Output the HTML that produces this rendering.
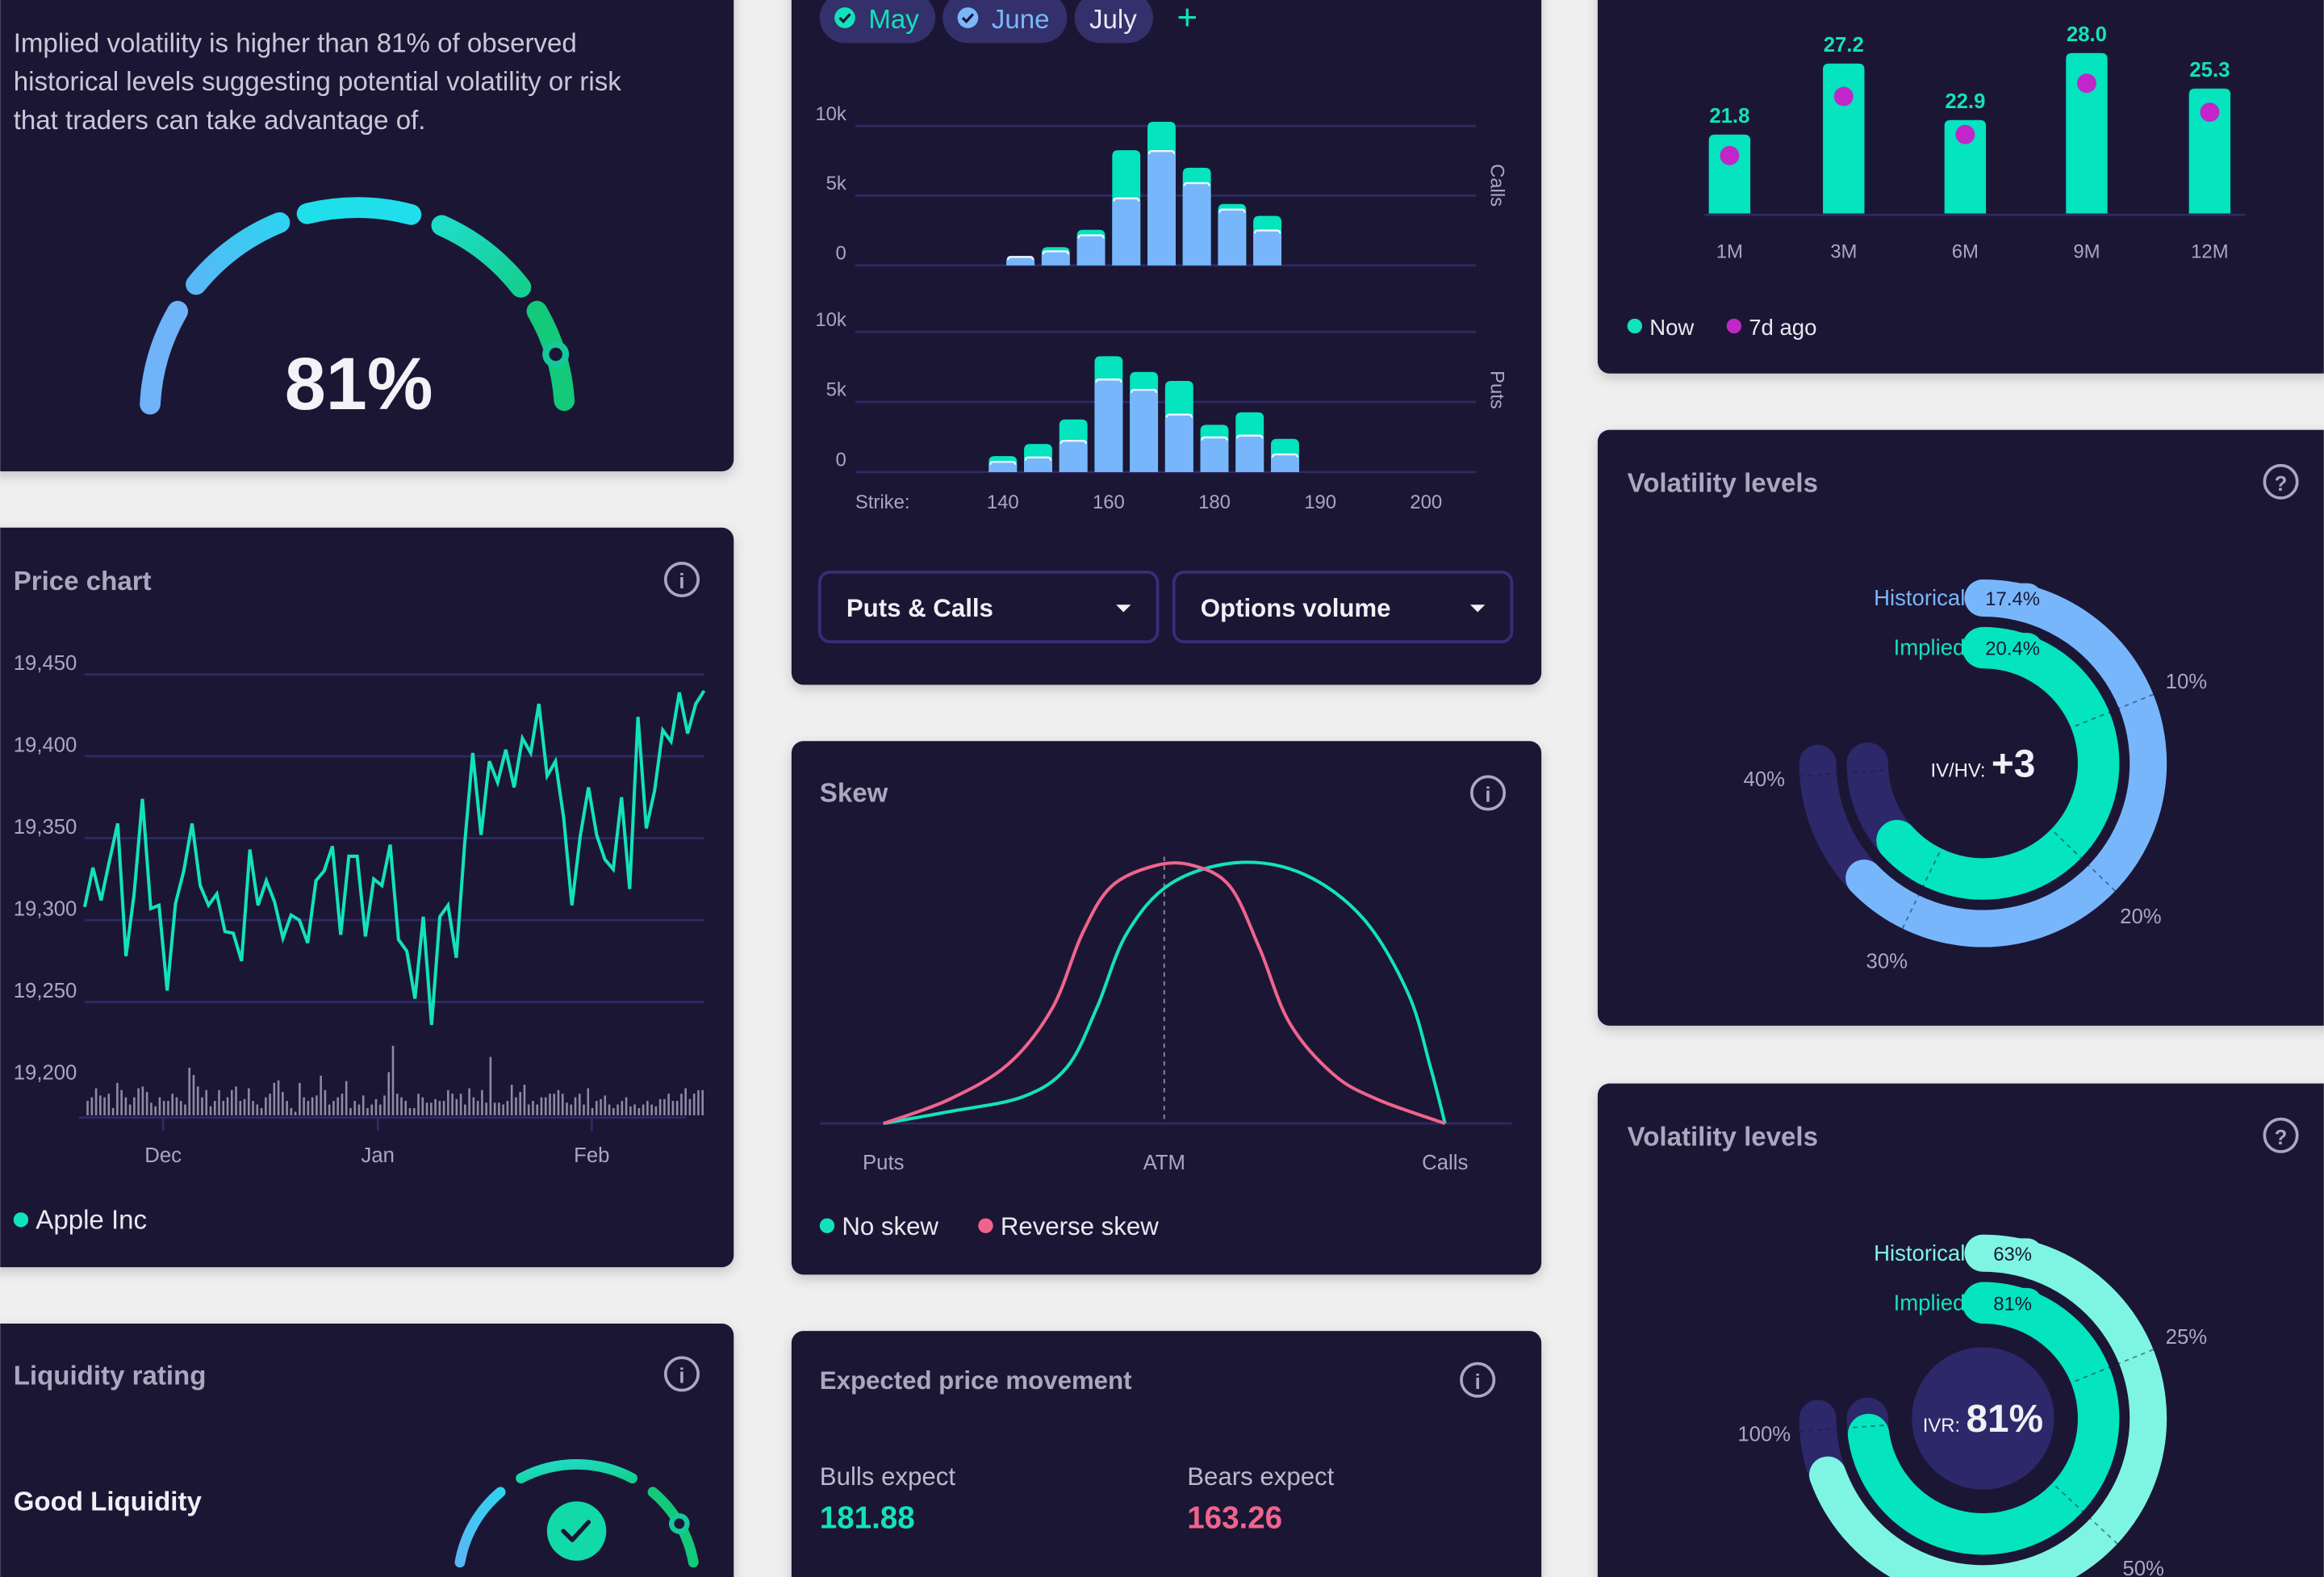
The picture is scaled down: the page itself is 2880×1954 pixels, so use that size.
<!DOCTYPE html>
<html><head><meta charset="utf-8">
<style>
html,body{margin:0;padding:0;background:#efefef;width:2880px;height:1954px;overflow:hidden;}
svg{display:block;font-family:"Liberation Sans",sans-serif;}
</style></head>
<body>
<svg id="root" width="2880" height="1954" viewBox="0 0 1568 1064" xmlns="http://www.w3.org/2000/svg">
<defs>
<filter id="sh" x="-10%" y="-10%" width="120%" height="130%"><feDropShadow dx="0" dy="3" stdDeviation="4" flood-color="#000" flood-opacity="0.18"/></filter>
<linearGradient id="g2" x1="0" y1="1" x2="1" y2="0"><stop offset="0" stop-color="#58b8f7"/><stop offset="1" stop-color="#2fd2f0"/></linearGradient>
<linearGradient id="g4" x1="0" y1="0" x2="1" y2="1"><stop offset="0" stop-color="#1fdcc8"/><stop offset="1" stop-color="#14cf8f"/></linearGradient>
<clipPath id="pg"><rect width="1568" height="1064"/></clipPath>
</defs>
<g clip-path="url(#pg)">
<rect width="1568" height="1064" fill="#efefef"/>
<g filter="url(#sh)" fill="#1a1736">
<rect x="-10" y="-20" width="505" height="338" rx="8"/>
<rect x="-10" y="356" width="505" height="499" rx="8"/>
<rect x="-10" y="893" width="505" height="190" rx="8"/>
<rect x="534" y="-20" width="506" height="482" rx="8"/>
<rect x="534" y="500" width="506" height="360" rx="8"/>
<rect x="534" y="898" width="506" height="185" rx="8"/>
<rect x="1078" y="-20" width="500" height="272" rx="8"/>
<rect x="1078" y="290" width="500" height="402" rx="8"/>
<rect x="1078" y="731" width="500" height="352" rx="8"/>
</g>

<g fill="#c9c8d8" font-size="18">
<text x="9" y="35">Implied volatility is higher than 81% of observed</text>
<text x="9" y="61">historical levels suggesting potential volatility or risk</text>
<text x="9" y="87">that traders can take advantage of.</text>
</g>
<g id="gauge1"></g>
<text x="242" y="276" text-anchor="middle" font-size="50" font-weight="bold" fill="#f2f2f7">81%</text>

<text x="9" y="398" font-size="18" font-weight="bold" fill="#a9a8bf">Price chart</text>
<g><circle cx="460" cy="391" r="11" fill="none" stroke="#a9a8bf" stroke-width="2"/><text x="460" y="397" text-anchor="middle" font-size="14" font-weight="bold" fill="#a9a8bf">i</text></g>
<g id="price"></g>
<circle cx="14" cy="823" r="5" fill="#12e2bb"/>
<text x="24" y="829" font-size="18" fill="#e8e8f0">Apple Inc</text>

<text x="9" y="934" font-size="18" font-weight="bold" fill="#a9a8bf">Liquidity rating</text>
<g><circle cx="460" cy="927" r="11" fill="none" stroke="#a9a8bf" stroke-width="2"/><text x="460" y="933" text-anchor="middle" font-size="14" font-weight="bold" fill="#a9a8bf">i</text></g>
<text x="9" y="1019" font-size="18" font-weight="bold" fill="#f0f0f5">Good Liquidity</text>
<g id="gauge2"></g>
<g><circle cx="389" cy="1033" r="20" fill="#12d9a8"/><path d="M380 1033 l6 6 l11 -12" fill="none" stroke="#1a1736" stroke-width="3" stroke-linecap="round" stroke-linejoin="round"/></g>

<g><rect x="553" y="-5" width="78" height="34" rx="17" fill="#34306b"/><circle cx="570" cy="12" r="7" fill="#12e2bb"/><path d="M566.5 12 l2.5 2.5 l4.5 -5" fill="none" stroke="#1a1736" stroke-width="1.8"/><text x="586" y="19" font-size="18" fill="#12e2bb">May</text></g>
<g><rect x="636" y="-5" width="84" height="34" rx="17" fill="#34306b"/><circle cx="653" cy="12" r="7" fill="#7ab7fb"/><path d="M649.5 12 l2.5 2.5 l4.5 -5" fill="none" stroke="#1a1736" stroke-width="1.8"/><text x="669" y="19" font-size="18" fill="#7ab7fb">June</text></g>
<g><rect x="725" y="-5" width="53" height="34" rx="17" fill="#34306b"/><text x="735" y="19" font-size="18" fill="#e8e8f0">July</text></g>
<text x="801" y="20" text-anchor="middle" font-size="24" fill="#12e2bb">+</text>
<g id="opts"></g>
<g><rect x="553" y="386" width="228" height="47" rx="7" fill="none" stroke="#352f7a" stroke-width="2"/><text x="571" y="416" font-size="17" font-weight="bold" fill="#f0f0f5">Puts &amp; Calls</text><path d="M753 408 h10 l-5 5z" fill="#f0f0f5"/></g>
<g><rect x="792" y="386" width="228" height="47" rx="7" fill="none" stroke="#352f7a" stroke-width="2"/><text x="810" y="416" font-size="17" font-weight="bold" fill="#f0f0f5">Options volume</text><path d="M992 408 h10 l-5 5z" fill="#f0f0f5"/></g>

<text x="553" y="541" font-size="18" font-weight="bold" fill="#a9a8bf">Skew</text>
<g><circle cx="1004" cy="535" r="11" fill="none" stroke="#a9a8bf" stroke-width="2"/><text x="1004" y="541" text-anchor="middle" font-size="14" font-weight="bold" fill="#a9a8bf">i</text></g>
<g id="skew"></g>
<circle cx="558" cy="827" r="5" fill="#12e2bb"/>
<text x="568" y="833" font-size="17" fill="#e8e8f0">No skew</text>
<circle cx="665" cy="827" r="5" fill="#f0648c"/>
<text x="675" y="833" font-size="17" fill="#e8e8f0">Reverse skew</text>

<text x="553" y="937" font-size="17" font-weight="bold" fill="#a9a8bf">Expected price movement</text>
<g><circle cx="997" cy="931" r="11" fill="none" stroke="#a9a8bf" stroke-width="2"/><text x="997" y="937" text-anchor="middle" font-size="14" font-weight="bold" fill="#a9a8bf">i</text></g>
<text x="553" y="1002" font-size="17" fill="#b9b8cc">Bulls expect</text>
<text x="553" y="1031" font-size="21" font-weight="bold" fill="#12e2bb">181.88</text>
<text x="801" y="1002" font-size="17" fill="#b9b8cc">Bears expect</text>
<text x="801" y="1031" font-size="21" font-weight="bold" fill="#f0648c">163.26</text>

<g id="term"></g>
<circle cx="1103" cy="220" r="5" fill="#12e2bb"/>
<text x="1113" y="226" font-size="15" fill="#e8e8f0">Now</text>
<circle cx="1170" cy="220" r="5" fill="#c026c8"/>
<text x="1180" y="226" font-size="15" fill="#e8e8f0">7d ago</text>

<text x="1098" y="332" font-size="18" font-weight="bold" fill="#a9a8bf">Volatility levels</text>
<g><circle cx="1539" cy="325" r="11" fill="none" stroke="#a9a8bf" stroke-width="2"/><text x="1539" y="331" text-anchor="middle" font-size="14" font-weight="bold" fill="#a9a8bf">?</text></g>
<g id="donut1"></g>
<text x="1098" y="773" font-size="18" font-weight="bold" fill="#a9a8bf">Volatility levels</text>
<g><circle cx="1539" cy="766" r="11" fill="none" stroke="#a9a8bf" stroke-width="2"/><text x="1539" y="772" text-anchor="middle" font-size="14" font-weight="bold" fill="#a9a8bf">?</text></g>
<g id="donut2"></g>
</g>
</svg>
<script>
const priceValues = [19308,19332,19312,19336,19359,19278,19316,19374,19307,19309,19257,19310,19330,19359,19321,19309,19316,19293,19292,19275,19343,19309,19324,19311,19289,19303,19300,19286,19324,19330,19345,19291,19339,19339,19290,19325,19321,19346,19288,19281,19252,19302,19236,19302,19309,19277,19346,19402,19352,19397,19384,19404,19381,19411,19402,19432,19388,19397,19362,19309,19351,19381,19352,19337,19331,19375,19319,19424,19356,19379,19416,19409,19439,19414,19432,19440];
const priceTicks = [19450,19400,19350,19300,19250,19200];
const volumeValues = [40,50,75,55,50,60,20,90,70,50,30,50,75,80,65,35,25,50,40,40,60,50,40,30,132,112,80,50,70,25,40,70,40,50,70,80,40,45,75,40,30,20,50,60,90,97,65,40,20,10,90,50,40,50,55,110,70,30,40,50,60,95,20,40,30,55,20,30,45,30,55,120,193,60,50,40,20,20,60,50,35,35,45,40,40,70,60,45,60,30,75,50,40,70,35,162,35,35,30,40,85,50,65,85,30,40,30,50,50,60,60,70,60,35,30,50,60,30,75,20,40,45,55,30,20,30,40,50,25,30,20,30,40,30,25,45,45,60,40,40,60,75,45,60,70,70];
const monthLabels = ["Dec","Jan","Feb"];
const monthIndex = [9.5,35.5,61.4];
const callsTotal = [0.66,1.3,2.55,8.26,10.3,7.0,4.4,3.55];
const callsMay = [0.6,1.0,2.15,4.8,8.2,5.9,4.0,2.5];
const putsTotal = [1.14,2.0,3.75,8.26,7.14,6.5,3.37,4.26,2.37];
const putsMay = [0.73,1.04,2.23,6.6,5.86,4.1,2.47,2.6,1.26];
const volTicks = [10,5,0];
const volTickLabels = ["10k","5k","0"];
const strikeLabels = ["140","160","180","190","200"];
const strikeIndex = [0,3,6,9,12];
const skewNoX = [0,0.116,0.248,0.327,0.380,0.433,0.512,0.631,0.749,0.855,0.934,0.974,1.0];
const skewNoY = [0,0.045,0.102,0.216,0.443,0.727,0.920,1.0,0.955,0.784,0.500,0.216,0];
const skewRevX = [0,0.116,0.222,0.301,0.354,0.406,0.485,0.551,0.617,0.670,0.723,0.802,0.881,1.0];
const skewRevY = [0,0.091,0.227,0.443,0.727,0.909,0.989,0.989,0.909,0.670,0.386,0.187,0.091,0];
const termLabels = ["1M","3M","6M","9M","12M"];
const termNow = [21.8,27.2,22.9,28.0,25.3];
const term7d = [20.2,24.7,21.8,25.7,23.5];
const donut1Values = [17.4,20.4];
const donut1Sweep = [226,228];
const donut2Values = [63,81];
const donut2Sweep = [250,262];

const NS="http://www.w3.org/2000/svg";
function mk(parent,tag,attrs){const e=document.createElementNS(NS,tag);for(const k in attrs)e.setAttribute(k,attrs[k]);parent.appendChild(e);return e;}
function pol(cx,cy,r,a){const t=(a-90)*Math.PI/180;return [cx+r*Math.cos(t),cy+r*Math.sin(t)];}
function arc(cx,cy,r,a0,a1){const p0=pol(cx,cy,r,a0),p1=pol(cx,cy,r,a1);const large=(a1-a0)>180?1:0;return `M${p0[0]} ${p0[1]} A${r} ${r} 0 ${large} 1 ${p1[0]} ${p1[1]}`;}

(function(){
  const g=document.getElementById('gauge1');
  const segs=[[-87,-60,'#6fb3f8'],[-51,-22,'url(#g2)'],[-14,15,'#1fe0ea'],[24,52,'url(#g4)'],[60,86,'#13c97a']];
  segs.forEach((s,i)=>{const p=mk(g,'path',{d:arc(241,280,140,s[0],s[1]),fill:'none',stroke:s[2],'stroke-width':14,'stroke-linecap':'round'});
  
  });
  const h=pol(241,280,140,73);
  const c=mk(g,'circle',{cx:h[0],cy:h[1],r:9,fill:'#14c99a'});
  
  
  mk(g,'circle',{cx:h[0],cy:h[1],r:4.5,fill:'#1a1736'});
  const g2=document.getElementById('gauge2');
  const s2=[[-80,-40,'url(#g2)'],[-28,28,'url(#g4)'],[40,80,'#13c97a']];
  s2.forEach(s=>{const p=mk(g2,'path',{d:arc(389,1068,80,s[0],s[1]),fill:'none',stroke:s[2],'stroke-width':7,'stroke-linecap':'round'});
  
  });
  const h2=pol(389,1068,80,60);
  mk(g2,'circle',{cx:h2[0],cy:h2[1],r:7,fill:'#14c99a'});
  mk(g2,'circle',{cx:h2[0],cy:h2[1],r:3.5,fill:'#1a1736'});
})();

(function(){
  const g=document.getElementById('price');
  const x0=57,x1=475;
  const py=v=>455+(19450-v)*1.105;
  priceTicks.forEach(t=>{
    if(t>19200){const l=mk(g,'line',{x1:x0,x2:x1,y1:py(t),y2:py(t),stroke:'#2e2a64','stroke-width':1.5});
    
    }
    const tx=mk(g,'text',{x:9,y:py(t)-3,'font-size':14,fill:'#a9a8bf'});tx.textContent=t.toLocaleString('en-US');
    
    
  });
  const px=i=>x0+i*(x1-x0)/(priceValues.length-1);
  const d=priceValues.map((v,i)=>(i?'L':'M')+px(i).toFixed(1)+' '+py(v).toFixed(1)).join(' ');
  const line=mk(g,'path',{d:d,fill:'none',stroke:'#12e2bb','stroke-width':2.2});
  
  
  const base=752.5,vx0=59,vx1=474;
  volumeValues.forEach((v,i)=>{const x=vx0+i*(vx1-vx0)/(volumeValues.length-1);const h=v*0.243;
    const b=mk(g,'rect',{x:x-0.7,y:base-h,width:1.4,height:h,fill:'#8d8aa6'});
    
    });
  const ax=mk(g,'line',{x1:53,x2:463,y1:754,y2:754,stroke:'#2e2a64','stroke-width':1.5});
  
  
  monthLabels.forEach((m,i)=>{const x=px(monthIndex[i]);
    mk(g,'line',{x1:x,x2:x,y1:754,y2:763,stroke:'#2e2a64','stroke-width':1.5});
    const t=mk(g,'text',{x:x,y:784,'text-anchor':'middle','font-size':14,fill:'#a9a8bf'});t.textContent=m;
    
    });
})();

(function(){
  const g=document.getElementById('opts');
  const panels=[{y:v=>179-v*9.4,tot:callsTotal,may:callsMay,off:0.5,name:'calls',label:'Calls',ly:125},
                {y:v=>318.5-v*9.46,tot:putsTotal,may:putsMay,off:0,name:'puts',label:'Puts',ly:263}];
  const bx=i=>676.6+i*23.8;
  panels.forEach(p=>{
    volTicks.forEach((t,k)=>{const yy=p.y(t);
      const l=mk(g,'line',{x1:577,x2:996,y1:yy,y2:yy,stroke:'#2e2a64','stroke-width':1.5});
      
      
      const tx=mk(g,'text',{x:571,y:yy-4,'text-anchor':'end','font-size':13,fill:'#a9a8bf'});tx.textContent=volTickLabels[k];
      
      });
    p.tot.forEach((v,i)=>{const cx=bx(i+p.off),w=19,y0=p.y(0);
      const yt=p.y(v),ym=p.y(p.may[i]);
      const b1=mk(g,'path',{d:`M${cx-w/2} ${y0} V${yt+4} Q${cx-w/2} ${yt} ${cx-w/2+4} ${yt} H${cx+w/2-4} Q${cx+w/2} ${yt} ${cx+w/2} ${yt+4} V${y0}Z`,fill:'#03e4bf'});
      
      
      const b2=mk(g,'path',{d:`M${cx-w/2} ${y0} V${ym+3} Q${cx-w/2} ${ym} ${cx-w/2+3} ${ym} H${cx+w/2-3} Q${cx+w/2} ${ym} ${cx+w/2} ${ym+3} V${y0}Z`,fill:'#78b6fb'});
      
      
      mk(g,'path',{d:`M${cx-w/2+1} ${ym+2} Q${cx-w/2+1} ${ym} ${cx-w/2+3} ${ym} H${cx+w/2-3} Q${cx+w/2-1} ${ym} ${cx+w/2-1} ${ym+2}`,fill:'none',stroke:'#f2f6ff','stroke-width':1.3});
    });
    const lt=mk(g,'text',{x:1006,y:p.ly,'font-size':13,fill:'#a9a8bf','text-anchor':'middle',transform:`rotate(90 1006 ${p.ly})`});lt.textContent=p.label;
    
    
  });
  const st=mk(g,'text',{x:577,y:343,'font-size':13,fill:'#a9a8bf'});st.textContent='Strike:';
  
  
  strikeLabels.forEach((s,i)=>{const t=mk(g,'text',{x:bx(strikeIndex[i]),y:343,'text-anchor':'middle','font-size':13,fill:'#a9a8bf'});t.textContent=s;
    
    });
})();

(function(){
  const g=document.getElementById('skew');
  const sx=v=>596+v*379, sy=v=>758-v*176;
  mk(g,'line',{x1:553,x2:1020,y1:758,y2:758,stroke:'#2e2a64','stroke-width':1.5});
  mk(g,'line',{x1:sx(0.5),x2:sx(0.5),y1:578,y2:758,stroke:'#8d8aa6','stroke-width':1,'stroke-dasharray':'3 3'});
  function curve(xs,ys){const P=xs.map((x,i)=>[sx(x),sy(ys[i])]);let d=`M${P[0][0]} ${P[0][1]}`;
    for(let i=0;i<P.length-1;i++){const p0=P[Math.max(0,i-1)],p1=P[i],p2=P[i+1],p3=P[Math.min(P.length-1,i+2)];
      d+=` C${p1[0]+(p2[0]-p0[0])/6} ${p1[1]+(p2[1]-p0[1])/6} ${p2[0]-(p3[0]-p1[0])/6} ${p2[1]-(p3[1]-p1[1])/6} ${p2[0]} ${p2[1]}`;}
    return d;}
  const a=mk(g,'path',{d:curve(skewNoX,skewNoY),fill:'none',stroke:'#12e2bb','stroke-width':2.2});
  
  
  const b=mk(g,'path',{d:curve(skewRevX,skewRevY),fill:'none',stroke:'#f0648c','stroke-width':2.2});
  
  
  [['Puts',0],['ATM',0.5],['Calls',1]].forEach(l=>{const t=mk(g,'text',{x:sx(l[1]),y:789,'text-anchor':'middle','font-size':14,fill:'#a9a8bf'});t.textContent=l[0];
    
    });
})();

(function(){
  const g=document.getElementById('term');
  const tx=[1167,1244,1326,1408,1491];
  const ty=v=>144-(v-15.8)*8.87;
  mk(g,'line',{x1:1150,x2:1515,y1:145,y2:145,stroke:'#2e2a64','stroke-width':1.5});
  termNow.forEach((v,i)=>{const x=tx[i],w=28,y=ty(v);
    const b=mk(g,'path',{d:`M${x-w/2} 144 V${y+4} Q${x-w/2} ${y} ${x-w/2+4} ${y} H${x+w/2-4} Q${x+w/2} ${y} ${x+w/2} ${y+4} V144Z`,fill:'#03e4bf'});
    
    
    const lv=mk(g,'text',{x:x,y:y-8,'text-anchor':'middle','font-size':14,'font-weight':'bold',fill:'#12e2bb'});lv.textContent=v.toFixed(1);
    
    
    const d=mk(g,'circle',{cx:x,cy:ty(term7d[i]),r:6.5,fill:'#c026c8'});
    
    
    const lb=mk(g,'text',{x:x,y:174,'text-anchor':'middle','font-size':13,fill:'#a9a8bf'});lb.textContent=termLabels[i];
    
    
  });
})();

function donut(id,cy,vals,sweeps,cols,lblCols,ticks,center,inner){
  const g=document.getElementById(id);const cx=1338;
  const R=[111.5,78],W=[25,28];
  R.forEach((r,i)=>mk(g,'path',{d:arc(cx,cy,r,0,270),fill:'none',stroke:'#2d2869','stroke-width':W[i],'stroke-linecap':'round'}));
  if(inner) mk(g,'circle',{cx:cx,cy:cy,r:48,fill:'#2d2869'});
  R.forEach((r,i)=>{const p=mk(g,'path',{d:arc(cx,cy,r,0,sweeps[i]),fill:'none',stroke:cols[i],'stroke-width':W[i],'stroke-linecap':'round'});
    
    });
  ticks.forEach(t=>{const a=pol(cx,cy,55,t[1]),b=pol(cx,cy,124,t[1]);
    mk(g,'line',{x1:a[0],y1:a[1],x2:b[0],y2:b[1],stroke:'#1a1736','stroke-opacity':0.5,'stroke-width':1,'stroke-dasharray':'3 3'});
    const p=pol(cx,cy,148,t[1]);const tx=mk(g,'text',{x:p[0],y:p[1]+5,'text-anchor':'middle','font-size':14,fill:'#a9a8bf'});tx.textContent=t[0];
    
    });
  const names=['Historical','Implied'];
  R.forEach((r,i)=>{const y=cy-r;
    mk(g,'rect',{x:cx,y:y-10,width:40,height:20,rx:10,fill:cols[i]});
    const v=mk(g,'text',{x:cx+20,y:y+5,'text-anchor':'middle','font-size':13,fill:'#1a1736'});v.textContent=vals[i]+'%';
    
    
    const n=mk(g,'text',{x:cx-12,y:y+5,'text-anchor':'end','font-size':15,fill:lblCols[i]});n.textContent=names[i];
    
    });
  const c=mk(g,'text',{x:cx,y:cy+9,'text-anchor':'middle',fill:'#f0f0f5'});
  c.innerHTML=`<tspan font-size="13">${center[0]}</tspan><tspan font-size="26" font-weight="bold" dx="4">${center[1]}</tspan>`;
  
  
}
donut('donut1',515,donut1Values,donut1Sweep,['#78b6fb','#03e4bf'],['#78b6fb','#12e2bb'],[['10%',68],['20%',134],['30%',206],['40%',266]],['IV/HV:','+3'],false);
donut('donut2',957,donut2Values,donut2Sweep,['#7ef5e2','#03e4bf'],['#7ef5e2','#12e2bb'],[['25%',68],['50%',133],['100%',266]],['IVR:','81%'],true);
</script>
</body></html>
